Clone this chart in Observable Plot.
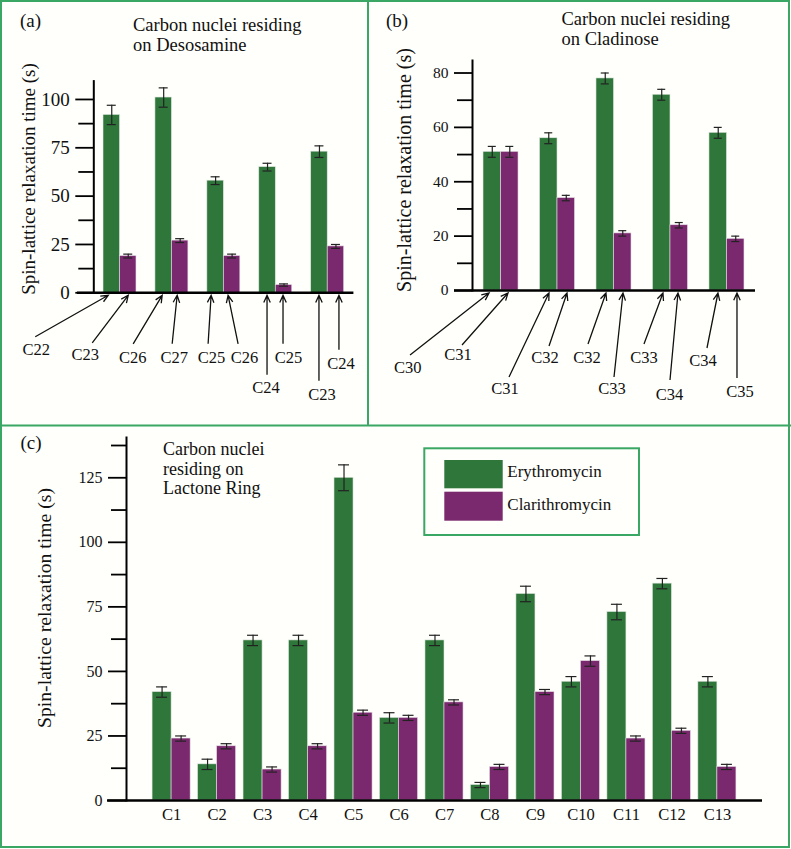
<!DOCTYPE html>
<html><head><meta charset="utf-8">
<script src="https://cdn.jsdelivr.net/npm/d3@7"></script>
<script src="https://cdn.jsdelivr.net/npm/@observablehq/plot@0.6"></script>
<style>
html,body{margin:0;padding:0;background:#fffffb;}
#fig{position:relative;width:791px;height:849px;background:#fffffb;overflow:hidden;font-family:"Liberation Serif",serif;}
#fig svg{position:absolute;}
</style></head><body><div id="fig"></div>
<script>
// ---------------- data ----------------
const seriesNames = ["Erythromycin", "Clarithromycin"];
const seriesColors = ["#2e763a", "#7b296e"];

// (a) Carbon nuclei residing on Desosamine
const aGroups = [0, 1, 2, 3, 4];
const aEry = [92, 101, 58, 65, 73];
const aEryErr = [5, 5, 2, 2, 3];
const aCla = [19, 27, 19, 4, 24];
const aClaErr = [1, 1, 1, 0.6, 1];
const aEryLabels = ["C22", "C26", "C25", "C24", "C23"];
const aClaLabels = ["C23", "C27", "C26", "C25", "C24"];
const aTicks = [0, 25, 50, 75, 100];
const aMinorTicks = [12.5, 37.5, 62.5, 87.5];

// (b) Carbon nuclei residing on Cladinose
const bGroups = [0, 1, 2, 3, 4];
const bEry = [51, 56, 78, 72, 58];
const bEryErr = [2, 2, 2, 2, 2];
const bCla = [51, 34, 21, 24, 19];
const bClaErr = [2, 1, 1, 1, 1];
const bEryLabels = ["C30", "C31", "C32", "C33", "C34"];
const bClaLabels = ["C31", "C32", "C33", "C34", "C35"];
const bTicks = [0, 20, 40, 60, 80];
const bMinorTicks = [10, 30, 50, 70];

// (c) Carbon nuclei residing on Lactone Ring
const cGroups = ["C1","C2","C3","C4","C5","C6","C7","C8","C9","C10","C11","C12","C13"];
const cEry = [42, 14, 62, 62, 125, 32, 62, 6, 80, 46, 73, 84, 46];
const cEryErr = [2, 2, 2, 2, 5, 2, 2, 1, 3, 2, 3, 2, 2];
const cCla = [24, 21, 12, 21, 34, 32, 38, 13, 42, 54, 24, 27, 13];
const cClaErr = [1, 1, 1, 1, 1, 1, 1, 1, 1, 2, 1, 1, 1];
const cTicks = [0, 25, 50, 75, 100, 125];
const cMinorTicks = [12.5, 37.5, 62.5, 87.5, 112.5, 137.5];

// panel titles (one entry per line)
const aTitle = ["Carbon nuclei residing", "on Desosamine"];
const bTitle = ["Carbon nuclei residing", "on Cladinose"];
const cTitle = ["Carbon nuclei", "residing on", "Lactone Ring"];

// annotation arrow layout (pixels, relative to bar centre and zero line):
// [tipDx, tailDx, tailDy, textDx, textDy], order: ery0, cla0, ery1, cla1, ...
const aArrowLayout = [
  [-3, -76, 44.5, -75, 62.5], [0.5, -35.5, 50.5, -42.5, 67.5],
  [-1, -30, 51.5, -30.5, 70.5], [-2.5, -7.5, 51.5, -5.5, 70.5],
  [-4, -7, 51.5, -3.5, 70.5], [-3.5, 6.5, 51.5, 13, 70.5],
  [0, 0, 82.5, -1, 100.5], [-0.5, -0.5, 51.5, 5, 70.5],
  [0, 0, 88.5, 3, 107.5], [3.5, 3.5, 57.5, 5.5, 76.5]
];
const bArrowLayout = [
  [-2.75, -81.75, 65, -84, 83], [-1.25, -47.25, 55, -51.25, 70],
  [0.75, -39.25, 87, -43.25, 104], [1.25, -16.75, 56, -20.75, 73],
  [1.25, -16.75, 54, -17.75, 73], [0.75, -8.25, 87, -10.25, 104],
  [1.75, -17.25, 54, -17.25, 73], [-0.75, -8.75, 90, -9.25, 110],
  [0.25, -10.75, 58, -14.75, 76], [1.75, 1.75, 88, 4.75, 107]
];

// ---------------- drawing ----------------
const fig = document.getElementById("fig");
const FONT = "Liberation Serif";

function panel(o) {
  const rows = o.groups.map((g, i) => ({g, ery: o.ery[i], eryErr: o.eryErr[i], cla: o.cla[i], claErr: o.claErr[i]}));
  const n = o.groups.length;
  const innerW = o.width - o.ml - o.mr;
  const step = innerW / (n - o.padIn + 2 * o.padOut);
  const bw = step * (1 - o.padIn);
  const cw = o.capW / 2;
  const errStyle = {stroke: "#222", strokeWidth: 1.2};
  const marks = [
    Plot.barY(rows, {x: "g", y: "ery", fill: seriesColors[0], insetRight: bw / 2, stroke: "#dfe6df", strokeWidth: 0.6}),
    Plot.barY(rows, {x: "g", y: "cla", fill: seriesColors[1], insetLeft: bw / 2, stroke: "#e6dfe6", strokeWidth: 0.6}),
    Plot.ruleX(rows, {x: "g", y1: d => d.ery - d.eryErr, y2: d => d.ery + d.eryErr, dx: -bw / 4, ...errStyle}),
    Plot.tickY(rows, {x: "g", y: d => d.ery + d.eryErr, insetLeft: bw / 4 - cw, insetRight: 3 * bw / 4 - cw, ...errStyle}),
    Plot.tickY(rows, {x: "g", y: d => d.ery - d.eryErr, insetLeft: bw / 4 - cw, insetRight: 3 * bw / 4 - cw, ...errStyle}),
    Plot.ruleX(rows, {x: "g", y1: d => d.cla - d.claErr, y2: d => d.cla + d.claErr, dx: bw / 4, ...errStyle}),
    Plot.tickY(rows, {x: "g", y: d => d.cla + d.claErr, insetLeft: 3 * bw / 4 - cw, insetRight: bw / 4 - cw, ...errStyle}),
    Plot.tickY(rows, {x: "g", y: d => d.cla - d.claErr, insetLeft: 3 * bw / 4 - cw, insetRight: bw / 4 - cw, ...errStyle}),
    Plot.ruleY([0], {insetLeft: -o.baseExt, stroke: "#000", strokeWidth: 2.6}),
    Plot.frame({anchor: "left", stroke: "#000", strokeWidth: 2}),
    Plot.axisY({ticks: o.ticks, tickSize: 18, tickPadding: 6, fontSize: o.tickFont, label: null, stroke: "#000", strokeWidth: 1.8, fill: "#111"}),
    Plot.axisY({ticks: o.minor, tickSize: 15, tickFormat: () => "", label: null, stroke: "#000", strokeWidth: 1.8})
  ];
  if (o.xAxis) marks.push(Plot.axisX({tickSize: 0, tickPadding: 8, fontSize: 16.5, label: null, fill: "#111"}));
  const svg = Plot.plot({
    width: o.width, height: o.height,
    marginLeft: o.ml, marginRight: o.mr, marginTop: o.mt, marginBottom: o.mb,
    style: {background: "none", fontFamily: FONT, overflow: "visible", color: "#000"},
    x: {type: "band", domain: o.groups, paddingInner: o.padIn, paddingOuter: o.padOut, round: false, axis: null},
    y: {domain: [0, o.yMax], axis: null},
    marks
  });
  svg.style.left = o.left + "px";
  svg.style.top = o.top + "px";
  fig.appendChild(svg);
  return svg;
}

function drawArrows(svg, groups, eryLabels, claLabels, layout, fontSize) {
  const sx = svg.scale("x"), sy = svg.scale("y");
  const bw = sx.bandwidth;
  const y0 = sy.apply(0);
  const items = [];
  groups.forEach((gr, i) => {
    const x0 = sx.apply(gr);
    items.push({cx: x0 + bw / 4, label: eryLabels[i], l: layout[2 * i]});
    items.push({cx: x0 + 3 * bw / 4, label: claLabels[i], l: layout[2 * i + 1]});
  });
  const g = d3.select(svg).append("g");
  items.forEach(({cx, label, l}) => {
    const [tipDx, tailDx, tailDy, textDx, textDy] = l;
    const x2 = cx + tipDx, y2 = y0 + 3, x1 = cx + tailDx, y1 = y0 + tailDy;
    const ang = Math.atan2(y2 - y1, x2 - x1), h = 8, a = 0.42;
    g.append("path")
      .attr("d", `M${x1},${y1}L${x2},${y2}M${x2 - h * Math.cos(ang - a)},${y2 - h * Math.sin(ang - a)}L${x2},${y2}L${x2 - h * Math.cos(ang + a)},${y2 - h * Math.sin(ang + a)}`)
      .attr("fill", "none").attr("stroke", "#111").attr("stroke-width", 1.3);
    g.append("text").attr("x", cx + textDx).attr("y", y0 + textDy)
      .attr("text-anchor", "middle").attr("font-size", fontSize).attr("fill", "#111").text(label);
  });
}

const svgA = panel({groups: aGroups, ery: aEry, eryErr: aEryErr, cla: aCla, claErr: aClaErr,
  ticks: aTicks, minor: aMinorTicks, left: 0, top: 0, width: 368, height: 425,
  ml: 93.3, mr: 14.6, mt: 80.6, mb: 132.7, yMax: 109.5, padIn: 0.365, padOut: 0.187,
  capW: 9, tickFont: 19, baseExt: 16.3, xAxis: false});
drawArrows(svgA, aGroups, aEryLabels, aClaLabels, aArrowLayout, 16.5);

const svgB = panel({groups: bGroups, ery: bEry, eryErr: bEryErr, cla: bCla, claErr: bClaErr,
  ticks: bTicks, minor: bMinorTicks, left: 368, top: 0, width: 422, height: 425,
  ml: 104, mr: 35, mt: 60, mb: 135, yMax: 84.6, padIn: 0.38, padOut: 0.195,
  capW: 8, tickFont: 15.5, baseExt: 18, xAxis: false});
drawArrows(svgB, bGroups, bEryLabels, bClaLabels, bArrowLayout, 16.5);

const svgC = panel({groups: cGroups, ery: cEry, eryErr: cEryErr, cla: cCla, claErr: cClaErr,
  ticks: cTicks, minor: cMinorTicks, left: 0, top: 426, width: 790, height: 423,
  ml: 126, mr: 28, mt: 11, mb: 49, yMax: 140.6, padIn: 0.163, padOut: 0.573,
  capW: 11, tickFont: 16, baseExt: 19, xAxis: true});

// ---------------- overlay: borders, titles, labels, legend ----------------
const ov = d3.select(fig).append("svg").attr("width", 791).attr("height", 849)
  .style("left", "0px").style("top", "0px").style("pointer-events", "none")
  .attr("font-family", FONT);
const border = "#3aa864";
ov.append("rect").attr("x", 1).attr("y", 1).attr("width", 788).attr("height", 846)
  .attr("fill", "none").attr("stroke", border).attr("stroke-width", 2);
ov.append("line").attr("x1", 368).attr("x2", 368).attr("y1", 0).attr("y2", 425.5).attr("stroke", border).attr("stroke-width", 2);
ov.append("line").attr("x1", 0).attr("x2", 791).attr("y1", 425.5).attr("y2", 425.5).attr("stroke", border).attr("stroke-width", 2);

function txt(x, y, s, size, anchor = "start", rotate = 0) {
  const t = ov.append("text").attr("font-size", size).attr("fill", "#111").attr("text-anchor", anchor).text(s);
  if (rotate) t.attr("transform", `translate(${x},${y}) rotate(${rotate})`).attr("dominant-baseline", "central");
  else t.attr("x", x).attr("y", y);
}
txt(20, 27, "(a)", 19);
txt(386, 27, "(b)", 19);
txt(20.5, 449, "(c)", 19);
aTitle.forEach((s, i) => txt(133, 30.5 + i * 20, s, 18.5));
bTitle.forEach((s, i) => txt(561.5, 24.5 + i * 20, s, 18.5));
cTitle.forEach((s, i) => txt(163, 455 + i * 19.5, s, 18));
const yTitle = "Spin-lattice relaxation time (s)";
txt(28, 179, yTitle, 19, "middle", -90);
txt(403.5, 170, yTitle, 20, "middle", -90);
txt(44, 608, yTitle, 19.7, "middle", -90);

// legend
ov.append("rect").attr("x", 424.3).attr("y", 448.3).attr("width", 214.7).attr("height", 86.7)
  .attr("fill", "none").attr("stroke", border).attr("stroke-width", 2);
const legendRows = [[460, 28.3, 476.7], [491.7, 29, 510]];
seriesNames.forEach((name, i) => {
  const [ry, rh, ty] = legendRows[i];
  ov.append("rect").attr("x", 444.3).attr("y", ry).attr("width", 58.4).attr("height", rh).attr("fill", seriesColors[i]);
  txt(507.3, ty, name, 17);
});
</script></body></html>
